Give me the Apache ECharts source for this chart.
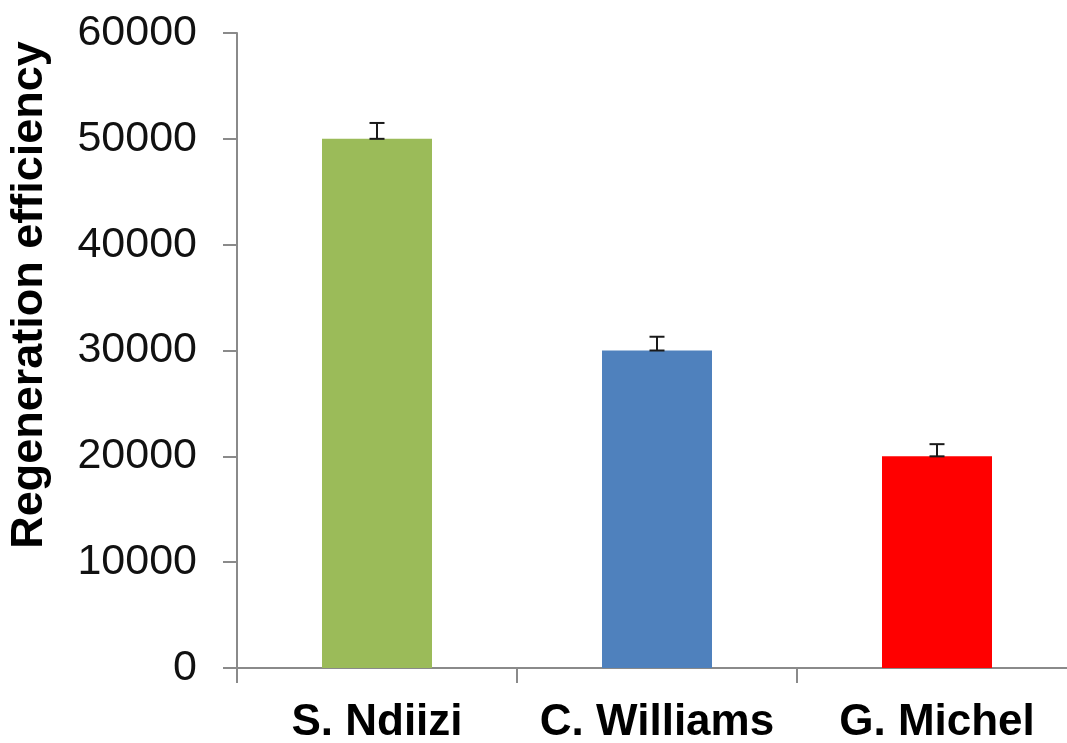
<!DOCTYPE html>
<html>
<head>
<meta charset="utf-8">
<script src="https://cdn.jsdelivr.net/npm/echarts@6/dist/echarts.min.js"></script>
<style>
html,body{margin:0;padding:0;background:#fff;}
#chart{width:1067px;height:743px;}
</style>
</head>
<body>
<div id="chart"></div>
<script>
var categories = ['S. Ndiizi', 'C. Williams', 'G. Michel'];
var values = [50000, 30000, 20000];
var errors = [1500, 1300, 1150];
var barColors = ['#9BBB59', '#4F81BD', '#FF0000'];
var yTitle = 'Regeneration efficiency';

var chart = echarts.init(document.getElementById('chart'), null, {renderer: 'canvas'});
var axisGray = '#8a8a8a';
var font = '"Liberation Sans", Arial, Helvetica, sans-serif';

var option = {
  animation: false,
  backgroundColor: '#ffffff',
  grid: {left: 237, top: 33, bottom: 75, width: 840, containLabel: false, outerBoundsMode: 'none'},
  xAxis: {
    type: 'category',
    data: categories,
    boundaryGap: true,
    axisLine: {show: true, lineStyle: {color: axisGray, width: 2}},
    axisTick: {show: true, length: 15, inside: false, alignWithLabel: false, lineStyle: {color: axisGray, width: 2}},
    axisLabel: {color: '#000', fontFamily: font, fontWeight: 'bold', fontSize: 44, margin: 33, interval: 0, hideOverlap: false},
    splitLine: {show: false}
  },
  yAxis: {
    type: 'value',
    min: 0, max: 60000, interval: 10000,
    axisLine: {show: true, lineStyle: {color: axisGray, width: 2}},
    axisTick: {show: true, length: 14, inside: false, lineStyle: {color: axisGray, width: 2}},
    axisLabel: {color: '#111', fontFamily: font, fontSize: 43, margin: 40, formatter: function (v) { return String(v); }},
    splitLine: {show: false}
  },
  graphic: [{
    type: 'text',
    x: 30, y: 295,
    rotation: Math.PI / 2,
    style: {
      text: yTitle,
      font: 'bold 45px ' + font,
      fill: '#000',
      align: 'center',
      verticalAlign: 'middle'
    }
  }],
  series: [{
    type: 'bar',
    barWidth: 110,
    data: values.map(function (v, i) {
      return {value: v, itemStyle: {color: barColors[i]}};
    })
  }, {
    type: 'custom',
    data: values.map(function (v, i) { return [i, v, v + errors[i]]; }),
    z: 10,
    renderItem: function (params, api) {
      var i = api.value(0);
      var low = api.coord([i, api.value(1)]);
      var high = api.coord([i, api.value(2)]);
      var hw = 7.5;
      var st = {stroke: '#1a1a1a', lineWidth: 2};
      return {
        type: 'group',
        children: [
          {type: 'line', shape: {x1: low[0], y1: low[1], x2: high[0], y2: high[1]}, style: st},
          {type: 'line', shape: {x1: high[0] - hw, y1: high[1], x2: high[0] + hw, y2: high[1]}, style: st},
          {type: 'line', shape: {x1: low[0] - hw, y1: low[1], x2: low[0] + hw, y2: low[1]}, style: st}
        ]
      };
    }
  }]
};
chart.setOption(option);
</script>
</body>
</html>
